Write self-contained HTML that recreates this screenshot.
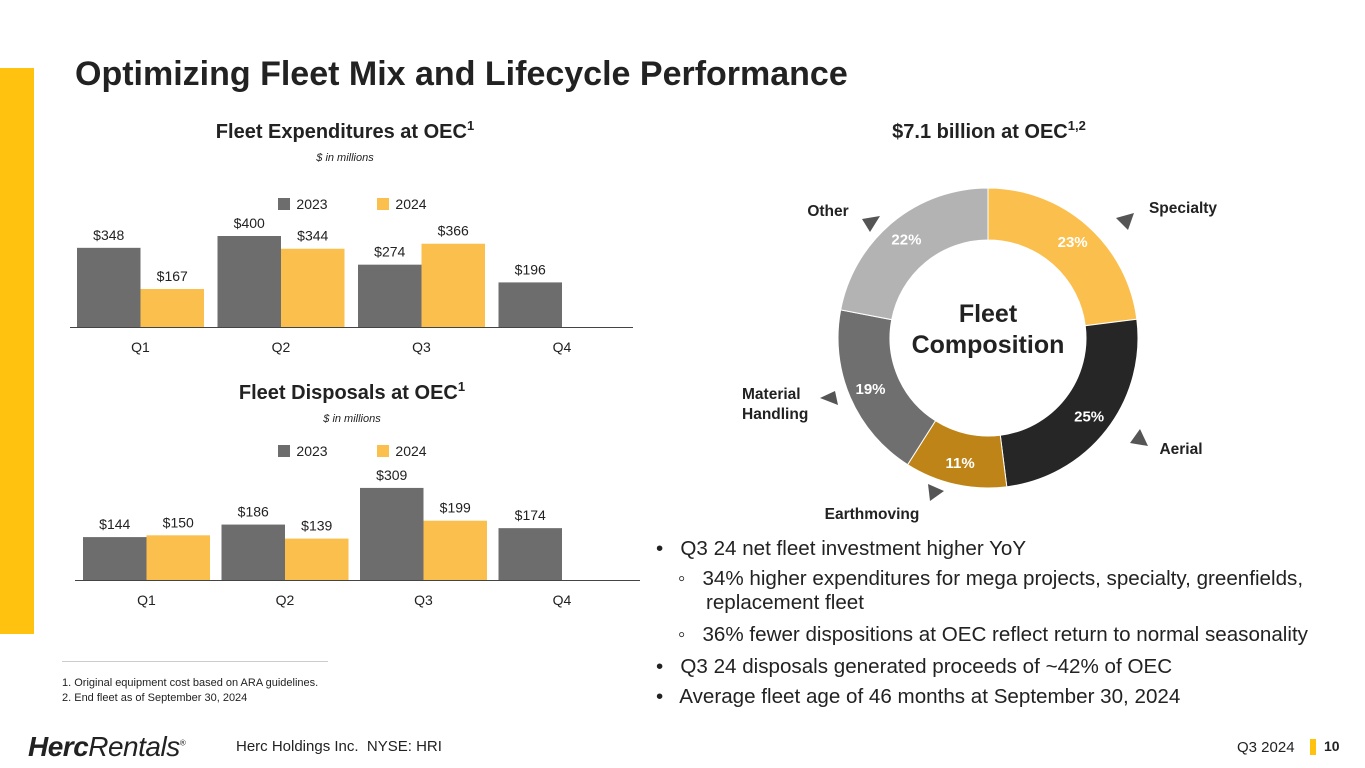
<!DOCTYPE html>
<html><head><meta charset="utf-8"><style>
body{margin:0;width:1365px;height:768px;overflow:hidden;background:#fff;font-family:"Liberation Sans",sans-serif;position:relative}
.a{position:absolute;white-space:nowrap}
.b{position:absolute;white-space:nowrap;font-size:20.6px;color:#222}
</style></head><body>
<div class="a" style="left:0;top:68px;width:34px;height:566px;background:#FFC20E"></div>
<div class="a" style="left:75px;top:55px;font-size:34px;font-weight:bold;color:#222">Optimizing Fleet Mix and Lifecycle Performance</div>
<div class="a" style="left:62px;top:661px;border-top:1px solid #ccc;width:266px;padding-top:14px;font-size:11px;color:#222;line-height:15px">1. Original equipment cost based on ARA guidelines.<br>2. End fleet as of September 30, 2024</div>
<div class="a" style="left:28px;top:731px;font-size:28px;color:#222;font-style:italic;letter-spacing:-0.5px"><b>Herc</b>Rentals<sup style="font-size:8px">®</sup></div>
<div class="a" style="left:236px;top:738px;font-size:15px;color:#222">Herc Holdings Inc.&nbsp; NYSE: HRI</div>
<div class="a" style="left:1237px;top:739px;font-size:15px;color:#222">Q3 2024</div>
<div class="a" style="left:1310px;top:739px;width:6px;height:16px;background:#FFC20E"></div>
<div class="a" style="left:1324px;top:738px;font-size:14px;font-weight:bold;color:#222">10</div>
<div>
<div class="b" style="left:656px;top:537px">•&nbsp;&nbsp; Q3 24 net fleet investment higher YoY</div>
<div class="b" style="left:678px;top:567px">◦&nbsp;&nbsp; 34% higher expenditures for mega projects, specialty, greenfields,</div>
<div class="b" style="left:706px;top:591px">replacement fleet</div>
<div class="b" style="left:678px;top:623px">◦&nbsp;&nbsp; 36% fewer dispositions at OEC reflect return to normal seasonality</div>
<div class="b" style="left:656px;top:655px">•&nbsp;&nbsp; Q3 24 disposals generated proceeds of ~42% of OEC</div>
<div class="b" style="left:656px;top:685px">•&nbsp;&nbsp; Average fleet age of 46 months at September 30, 2024</div>
</div>
<svg id="chart" class="a" style="left:0;top:0" width="1365" height="768"></svg>
<script>
const quarters=["Q1","Q2","Q3","Q4"];
const exp2023=[348,400,274,196];
const exp2024=[167,344,366,null];
const disp2023=[144,186,309,174];
const disp2024=[150,139,199,null];
const donutLabels=["Specialty","Aerial","Earthmoving","Material Handling","Other"];
const donutValues=[23,25,11,19,22];
const donutColors=["#FBBF4E","#262626","#BF8418","#6F6F6F","#B3B3B3"];
const NS="http://www.w3.org/2000/svg";
const svg=document.getElementById('chart');
function mk(tag,attrs,parent){const e=document.createElementNS(NS,tag);for(const k in attrs)e.setAttribute(k,attrs[k]);(parent||svg).appendChild(e);return e;}
function txt(x,y,s,o){const t=mk('text',Object.assign({x:x,y:y,'text-anchor':'middle','font-family':'Liberation Sans, sans-serif','font-size':14,fill:'#222'},o||{}));t.textContent=s;return t;}
function barChart(cfg){
  const g=mk('g',{});
  
  
  const t=txt(cfg.cx,cfg.titleY,'',{ 'font-size':20,'font-weight':'bold'});t.innerHTML=cfg.title+'<tspan dy="-8" font-size="13">1</tspan>';
  
  const st=txt(cfg.cx,cfg.titleY+23,'$ in millions',{'font-size':11,'font-style':'italic'});
  
  [['2023','#6D6D6D',278],['2024','#FBBF4E',377]].forEach(l=>{
    const r=mk('rect',{x:l[2],y:cfg.legY-6,width:12,height:12,fill:l[1]},g);
    
    const lt=txt(l[2]+34,cfg.legY+5,l[0],{'font-size':14});
    
  });
  const y=v=>cfg.base-v*cfg.scale;
  const bw=63.5;
  quarters.forEach((q,i)=>{
    const x0=cfg.x0+i*cfg.step;
    [[cfg.a,'#6D6D6D','2023',0],[cfg.b,'#FBBF4E','2024',1]].forEach(s=>{
      const v=s[0][i]; if(v==null)return;
      const bx=x0+s[3]*bw;
      const r=mk('rect',{x:bx,y:y(v),width:bw,height:cfg.base-y(v),fill:s[1]},g);
      
      const vl=txt(bx+bw/2,y(v)-8,'$'+v,{'font-size':14});
      
    });
    const ql=txt(x0+bw,cfg.base+25,q,{'font-size':14});
    
  });
  const ax=mk('line',{x1:cfg.ax1,x2:cfg.ax2,y1:cfg.base+0.5,y2:cfg.base+0.5,stroke:'#444','stroke-width':1},g);
  
}
barChart({name:'fleet-expenditures-chart',title:'Fleet Expenditures at OEC',cx:345,titleY:138,legY:204,a:exp2023,b:exp2024,base:327,scale:0.2275,x0:77,step:140.5,ax1:70,ax2:633});
barChart({name:'fleet-disposals-chart',title:'Fleet Disposals at OEC',cx:352,titleY:399,legY:451,a:disp2023,b:disp2024,base:580,scale:0.298,x0:83,step:138.5,ax1:75,ax2:640});
// donut
const cx=988,cy=338,R=150,r=98;
const dt=txt(989,138,'',{'font-size':20,'font-weight':'bold'});dt.innerHTML='$7.1 billion at OEC<tspan dy="-8" font-size="13">1,2</tspan>';

const total=donutValues.reduce((a,b)=>a+b,0);let ang=0;
const pt=(rad,a)=>[cx+rad*Math.sin(a),cy-rad*Math.cos(a)];
donutValues.forEach((v,i)=>{
  const a0=ang,a1=ang+v/total*2*Math.PI;ang=a1;
  const [x1,y1]=pt(R,a0),[x2,y2]=pt(R,a1),[x3,y3]=pt(r,a1),[x4,y4]=pt(r,a0);
  const lg=(a1-a0)>Math.PI?1:0;
  const p=mk('path',{d:`M${x1},${y1}A${R},${R} 0 ${lg} 1 ${x2},${y2}L${x3},${y3}A${r},${r} 0 ${lg} 0 ${x4},${y4}Z`,fill:donutColors[i],stroke:'#fff','stroke-width':1});
  
  
  const am=(a0+a1)/2;const [lx,ly]=pt((R+r)/2+4,am);
  const pl=txt(lx,ly+5,v+'%',{'font-size':15,'font-weight':'bold',fill:'#fff'});
  
});
const c1=txt(cx,322,'Fleet',{'font-size':25,'font-weight':'bold'});
const c2=txt(cx,353,'Composition',{'font-size':25,'font-weight':'bold'});
const cats=[['Specialty',1183,213,'middle'],['Aerial',1181,454,'middle'],['Earthmoving',872,519,'middle'],['Material',742,399,'start'],['Handling',742,419,'start'],['Other',828,216,'middle']];
cats.forEach(c=>{const t=txt(c[1],c[2],c[0],{'font-size':15.5,'font-weight':'bold','text-anchor':c[3]});});
const tris=['1116,218 1134,213 1128,230','1130,443 1148,446 1140,429','928,484 930,501 944,491','820,398 835,391 838,405','862,219 880,216 870,232'];
tris.forEach(p=>{const t=mk('polygon',{points:p,fill:'#555'});});
</script>
</body></html>
